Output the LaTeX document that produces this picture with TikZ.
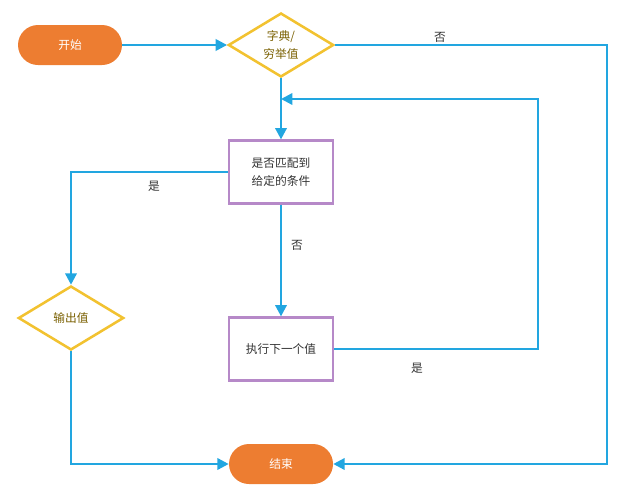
\documentclass[tikz,border=0pt]{standalone}
\usepackage{fontspec}
\setmainfont{Noto Sans CJK SC}
\usetikzlibrary{shapes.geometric,arrows.meta}
\definecolor{termfill}{HTML}{ED7D31}
\definecolor{decline}{HTML}{F2C230}
\definecolor{dectext}{HTML}{7A6000}
\definecolor{procline}{HTML}{B689C8}
\definecolor{flowblue}{HTML}{22A6E0}
\definecolor{labtext}{HTML}{333333}
\tikzset{
  terminal/.style={draw=none, fill=termfill, text=white, rounded corners=15pt,
    minimum width=78pt, minimum height=30pt, inner sep=0pt},
  decision/.style={diamond, draw=decline, line width=1.9pt, text=dectext, fill=white,
    minimum width=79pt, minimum height=48pt, inner sep=0pt, align=center},
  process/.style={rectangle, draw=procline, line width=1.9pt, text=labtext,
    minimum width=78pt, minimum height=47pt, inner sep=0pt, align=center},
  flow/.style={draw=flowblue, line width=1.8pt, -{Triangle[length=8.5pt,width=8.5pt]}},
  edgelabel/.style={text=labtext, inner sep=0pt}
}
\begin{document}
\begin{tikzpicture}[x=0.75pt, y=-0.75pt, font=\fontsize{8.8}{13}\selectfont]
\useasboundingbox (0,0) rectangle (628,500);
% nodes
\node[terminal] (start) at (70,45) {开始};
\node[decision] (dict) at (281,45) {字典/\\穷举值};
\node[process] (match) at (281,172) {是否匹配到\\给定的条件};
\node[decision] (out) at (71,318) {输出值};
\node[process] (next) at (281,349) {执行下一个值};
\node[terminal] (end) at (281,464) {结束};
% corners
\coordinate (rtop) at (607,45);
\coordinate (loopc) at (538,349);
\coordinate (join) at (281,99);
% connectors
\draw[flow] (start) -- (dict);
\draw[flow] (dict.east) -- (rtop) |- (end.east);
\draw[flow] (dict.south) -- (match.north);
\draw[flow] (match.west) -| (out.north);
\draw[flow] (out.south) |- (end.west);
\draw[flow] (match.south) -- (next.north);
\draw[flow] (next.east) -- (loopc) |- (join);
% labels
\node[edgelabel] (lno1) at (440,37) {否};
\node[edgelabel] (lyes1) at (154,186) {是};
\node[edgelabel] (lno2) at (297,245) {否};
\node[edgelabel] (lyes2) at (417,368) {是};
\end{tikzpicture}
\end{document}
